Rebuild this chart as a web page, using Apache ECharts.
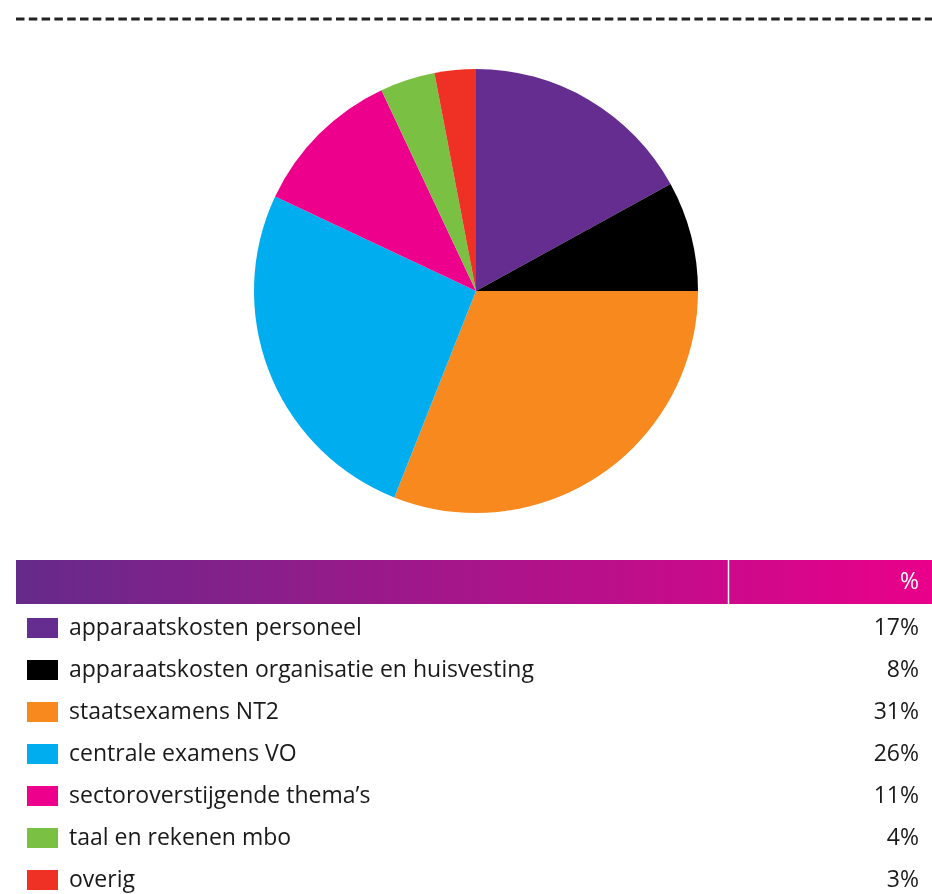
<!DOCTYPE html>
<html>
<head>
<meta charset="utf-8">
<script src="https://cdn.jsdelivr.net/npm/echarts@6/dist/echarts.min.js"></script>
<style>
    html, body { margin: 0; padding: 0; background: #fff; }
    #chart { width: 932px; height: 894px; }
</style>
</head>
<body>
<div id="chart"></div>
<script>
// kostenposten en aandelen
var categories = [
    'apparaatskosten personeel',
    'apparaatskosten organisatie en huisvesting',
    'staatsexamens NT2',
    'centrale examens VO',
    'sectoroverstijgende thema’s',
    'taal en rekenen mbo',
    'overig'
]
var percentages = [17, 8, 31, 26, 11, 4, 3]
var colors = ['#662d91', '#000000', '#f7891f', '#00aeef', '#ec008c', '#7ac143', '#ef3125']
var headerLabel = '%'

var font = '"Open Sans", "Noto Sans", sans-serif'

var chart = echarts.init(document.getElementById('chart'))

// legenda-tabel onder de taart
var graphics = [
    {
        type: 'line',
        shape: { x1: 16, y1: 19, x2: 932, y2: 19 },
        style: { stroke: '#222', lineWidth: 3, lineDash: [8.5, 4.3] }
    },
    {
        type: 'rect',
        shape: { x: 16, y: 560, width: 916, height: 44 },
        style: {
            fill: new echarts.graphic.LinearGradient(0, 0, 1, 0, [
                { offset: 0, color: '#652a8a' },
                { offset: 1, color: '#ea008a' }
            ])
        }
    },
    {
        type: 'line',
        shape: { x1: 728.5, y1: 560, x2: 728.5, y2: 604 },
        style: { stroke: '#fff', lineWidth: 1.5 }
    },
    {
        type: 'text',
        x: 919, y: 582,
        style: {
            text: headerLabel, fill: '#fff', font: '23px ' + font,
            textAlign: 'right', textVerticalAlign: 'middle'
        }
    }
]

categories.forEach(function (name, i) {
    var cy = 628 + i * 42
    graphics.push({
        type: 'rect',
        shape: { x: 27, y: cy - 10, width: 31, height: 20 },
        style: { fill: colors[i] }
    })
    graphics.push({
        type: 'text',
        x: 69, y: cy,
        style: {
            text: name, fill: '#1a1a1a', font: '23px ' + font,
            textAlign: 'left', textVerticalAlign: 'middle'
        }
    })
    graphics.push({
        type: 'text',
        x: 919, y: cy,
        style: {
            text: percentages[i] + '%', fill: '#1a1a1a', font: '23px ' + font,
            textAlign: 'right', textVerticalAlign: 'middle'
        }
    })
})

chart.setOption({
    animation: false,
    color: colors,
    graphic: graphics,
    series: [{
        type: 'pie',
        center: [476, 291],
        radius: 222,
        startAngle: 90,
        clockwise: true,
        silent: true,
        label: { show: false },
        labelLine: { show: false },
        itemStyle: { borderWidth: 0 },
        data: categories.map(function (name, i) {
            return { name: name, value: percentages[i] }
        })
    }]
})
</script>
</body>
</html>
